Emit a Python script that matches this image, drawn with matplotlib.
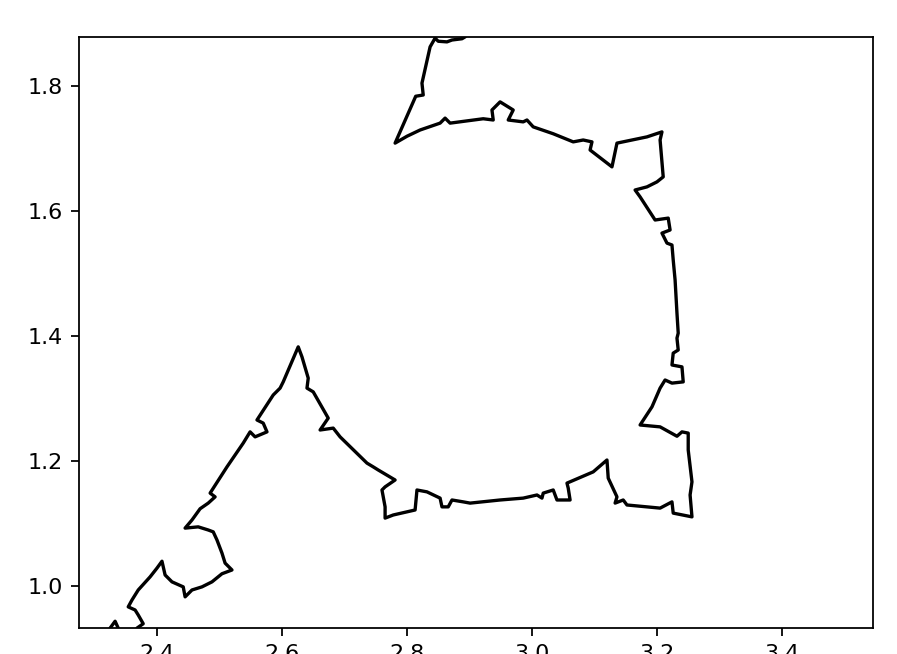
import matplotlib
matplotlib.use('Agg')
import matplotlib.pyplot as plt

# boundary, in order along the curve
xs = [2.901, 2.893, 2.888, 2.872, 2.864, 2.850, 2.845, 2.837, 2.824, 2.826,
      2.814, 2.781, 2.800, 2.821, 2.853, 2.861, 2.869, 2.922, 2.938, 2.936,
      2.949, 2.970, 2.962, 2.986, 2.992, 3.002, 3.034, 3.066, 3.082, 3.096,
      3.093, 3.128, 3.136, 3.184, 3.202, 3.208, 3.205, 3.210, 3.200, 3.184,
      3.165, 3.173, 3.197, 3.218, 3.221, 3.208, 3.216, 3.224, 3.226, 3.229,
      3.232, 3.234, 3.232, 3.234, 3.226, 3.224, 3.240, 3.242, 3.224, 3.213,
      3.205, 3.192, 3.173, 3.205, 3.232, 3.240, 3.250, 3.250, 3.256, 3.253,
      3.256, 3.226, 3.224, 3.205, 3.152, 3.146, 3.133, 3.136, 3.122, 3.120,
      3.098, 3.056, 3.058, 3.061, 3.040, 3.034, 3.018, 3.016, 3.008, 2.986,
      2.949, 2.901, 2.890, 2.872, 2.866, 2.856, 2.853, 2.832, 2.816, 2.813,
      2.778, 2.765, 2.765, 2.760, 2.765, 2.781, 2.754, 2.746, 2.736, 2.693,
      2.682, 2.661, 2.674, 2.650, 2.640, 2.642, 2.632, 2.626, 2.602, 2.597,
      2.586, 2.560, 2.570, 2.576, 2.557, 2.549, 2.538, 2.512, 2.485, 2.493,
      2.482, 2.469, 2.456, 2.445, 2.466, 2.482, 2.490, 2.496, 2.504, 2.509,
      2.520, 2.504, 2.488, 2.472, 2.456, 2.445, 2.442, 2.424, 2.413, 2.408,
      2.400, 2.389, 2.370, 2.360, 2.354, 2.365, 2.370, 2.378, 2.368, 2.365,
      2.338, 2.338, 2.333, 2.325, 2.318]
ys = [1.890, 1.879, 1.876, 1.874, 1.871, 1.872, 1.877, 1.863, 1.805, 1.786,
      1.784, 1.709, 1.720, 1.730, 1.741, 1.749, 1.741, 1.748, 1.746, 1.762,
      1.775, 1.762, 1.746, 1.743, 1.746, 1.735, 1.724, 1.711, 1.714, 1.711,
      1.698, 1.671, 1.709, 1.719, 1.725, 1.727, 1.714, 1.655, 1.647, 1.639,
      1.634, 1.623, 1.586, 1.589, 1.570, 1.565, 1.549, 1.546, 1.522, 1.490,
      1.437, 1.405, 1.397, 1.378, 1.373, 1.354, 1.351, 1.327, 1.325, 1.330,
      1.317, 1.287, 1.258, 1.255, 1.240, 1.247, 1.245, 1.218, 1.167, 1.146,
      1.111, 1.117, 1.135, 1.125, 1.130, 1.138, 1.133, 1.143, 1.173, 1.202,
      1.183, 1.165, 1.157, 1.138, 1.138, 1.154, 1.149, 1.141, 1.146, 1.141,
      1.138, 1.133, 1.135, 1.138, 1.127, 1.127, 1.141, 1.151, 1.154, 1.122,
      1.114, 1.109, 1.127, 1.154, 1.159, 1.170, 1.186, 1.191, 1.197, 1.239,
      1.253, 1.250, 1.269, 1.311, 1.317, 1.333, 1.367, 1.383, 1.327, 1.317,
      1.306, 1.266, 1.261, 1.247, 1.239, 1.247, 1.229, 1.191, 1.149, 1.143,
      1.133, 1.124, 1.106, 1.093, 1.095, 1.090, 1.087, 1.074, 1.053, 1.037,
      1.026, 1.020, 1.007, 0.999, 0.994, 0.983, 0.999, 1.007, 1.018, 1.040,
      1.029, 1.015, 0.994, 0.978, 0.967, 0.962, 0.954, 0.940, 0.933, 0.922,
      0.922, 0.933, 0.944, 0.933, 0.914]

xlim = (2.2747, 3.5456)
ylim = (0.9327, 1.8793)

fig = plt.figure(figsize=(897 / 160, 654 / 160), dpi=160)
ax = fig.add_axes([0.0877, 0.0393, 0.8855, 0.9046])
ax.plot(xs, ys, color='black', linewidth=1.5)
ax.set_xlim(*xlim)
ax.set_ylim(*ylim)
ax.set_xticks([2.4, 2.6, 2.8, 3.0, 3.2, 3.4])
ax.set_yticks([1.0, 1.2, 1.4, 1.6, 1.8])

fig.savefig('out.png', dpi=160)
